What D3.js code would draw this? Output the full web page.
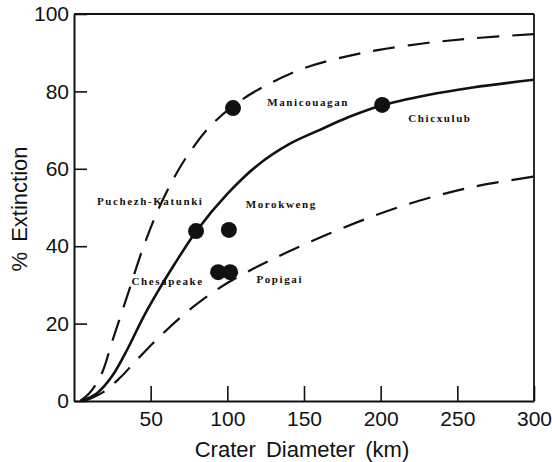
<!DOCTYPE html>
<html>
<head>
<meta charset="utf-8">
<script src="https://cdn.jsdelivr.net/npm/d3@7"></script>
<style>
  html, body { margin: 0; padding: 0; background: #fff; }
  svg { display: block; }
</style>
</head>
<body>
<div id="chart"></div>
<script>
// ---- Data ----
const xTicks = [50, 100, 150, 200, 250, 300];
const yTicks = [0, 20, 40, 60, 80, 100];

// Solid (mean) curve: [diameter km, % extinction]
const solidCurve = [
  [5, 0], [15, 2], [25, 6.5], [35, 13.5], [45, 21.5], [55, 28.5], [65, 35],
  [80, 44], [100, 53.5], [120, 61], [140, 66.3], [160, 70], [180, 73.5],
  [200, 76.3], [230, 79], [260, 81], [300, 83]
];
// Upper dashed bound
const upperCurve = [
  [4, 0], [10, 2], [18, 7], [25, 15.5], [35, 27.5], [45, 39.5], [55, 49.5],
  [65, 57.5], [75, 64], [90, 71.5], [110, 78], [130, 82.5], [150, 86],
  [175, 88.8], [200, 90.8], [230, 92.5], [260, 93.7], [300, 94.8]
];
// Lower dashed bound
const lowerCurve = [
  [7, 0], [19, 2.3], [30, 6], [40, 10.2], [55, 16.3], [70, 21.8], [85, 26.5],
  [100, 30.5], [120, 34.8], [140, 38.6], [165, 43], [190, 47], [215, 50.5],
  [240, 53.4], [265, 55.7], [300, 58]
];

// Impact craters
const craterNames = ["Puchezh-Katunki", "Morokweng", "Chesapeake", "Popigai", "Manicouagan", "Chicxulub"];
const craterDiam  = [79.6, 101, 94, 101.8, 103.7, 201];
const craterExt   = [43.9, 44.2, 33.3, 33.3, 75.7, 76.5];

// Label anchor positions in data units (diameter, % extinction)
const labelText = ["Puchezh-Katunki", "Morokweng", "Chesapeake", "Popigai", "Manicouagan", "Chicxulub"];
const labelX    = [15, 112, 37.5, 119, 126, 218];
const labelY    = [51.5, 50.8, 30.8, 31.4, 77.1, 73];

// ---- Layout ----
const W = 552, H = 462;
const svg = d3.select("#chart").append("svg").attr("width", W).attr("height", H);

const x = d3.scaleLinear().domain([0, 300]).range([74, 534]);
const y = d3.scaleLinear().domain([0, 100]).range([401, 14]);

// Frame (top and right borders)
svg.append("line").attr("x1", x(0)).attr("x2", x(300)).attr("y1", y(100)).attr("y2", y(100))
  .attr("stroke", "#111").attr("stroke-width", 1.8);
svg.append("line").attr("x1", x(300)).attr("x2", x(300)).attr("y1", y(100)).attr("y2", y(0))
  .attr("stroke", "#111").attr("stroke-width", 1.8);

// Axes
const yAxis = d3.axisLeft(y).tickValues(yTicks).tickSizeInner(-13).tickSizeOuter(0).tickPadding(5)
  .tickFormat(d3.format("d"));
const xAxis = d3.axisBottom(x).tickValues(xTicks).tickSizeInner(-15).tickSizeOuter(0).tickPadding(10)
  .tickFormat(d3.format("d"));

const gy = svg.append("g").attr("transform", `translate(${x(0)},0)`).call(yAxis);
const gx = svg.append("g").attr("transform", `translate(0,${y(0)})`).call(xAxis);

[gx, gy].forEach(g => {
  g.select(".domain").attr("stroke", "#111").attr("stroke-width", 2);
  g.selectAll(".tick line").attr("stroke", "#111").attr("stroke-width", 1.6);
  g.selectAll(".tick text").attr("fill", "#111")
    .style("font-family", "'Liberation Sans', Arial, sans-serif").style("font-size", "21px");
});

// Axis titles
svg.append("text").attr("x", 302).attr("y", 457).attr("text-anchor", "middle")
  .style("font-family", "'Liberation Sans', Arial, sans-serif").style("font-size", "22px")
  .style("word-spacing", "4px").attr("fill", "#111")
  .text("Crater Diameter (km)");
svg.append("text").attr("transform", "translate(27,209) rotate(-90)").attr("text-anchor", "middle")
  .style("font-family", "'Liberation Sans', Arial, sans-serif").style("font-size", "22px")
  .style("word-spacing", "4px").attr("fill", "#111")
  .text("% Extinction");

// Curves
const line = d3.line().x(d => x(d[0])).y(d => y(d[1])).curve(d3.curveCatmullRom.alpha(0.5));
svg.append("path").datum(solidCurve).attr("d", line)
  .attr("fill", "none").attr("stroke", "#111").attr("stroke-width", 2.6);
svg.append("path").datum(upperCurve).attr("d", line)
  .attr("fill", "none").attr("stroke", "#111").attr("stroke-width", 2.2)
  .attr("stroke-dasharray", "22,13");
svg.append("path").datum(lowerCurve).attr("d", line)
  .attr("fill", "none").attr("stroke", "#111").attr("stroke-width", 2.2)
  .attr("stroke-dasharray", "22,13");

// Crater dots
const craters = craterNames.map((n, i) => ({ name: n, d: craterDiam[i], e: craterExt[i] }));
svg.append("g").selectAll("circle").data(craters).join("circle")
  .attr("cx", d => x(d.d)).attr("cy", d => y(d.e)).attr("r", 8).attr("fill", "#111");

// Crater labels
const labels = labelText.map((t, i) => ({ t, lx: labelX[i], ly: labelY[i] }));
svg.append("g").selectAll("text").data(labels).join("text")
  .attr("x", d => x(d.lx)).attr("y", d => y(d.ly))
  .attr("dy", "0.32em")
  .style("font-family", "'Liberation Serif', 'Times New Roman', serif")
  .style("font-size", "11px").style("font-weight", "bold").style("letter-spacing", "1.6px")
  .attr("fill", "#111")
  .text(d => d.t);
</script>
</body>
</html>
